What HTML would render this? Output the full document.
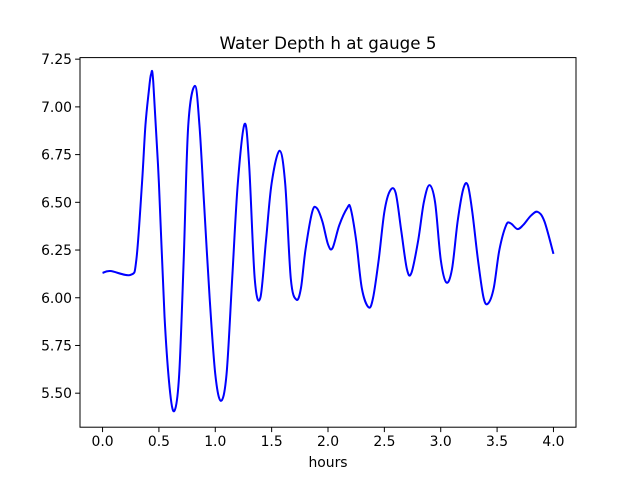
<!DOCTYPE html>
<html><head><meta charset="utf-8"><style>
html,body{margin:0;padding:0;background:#fff;}
svg text{font-family:"DejaVu Sans","Liberation Sans",sans-serif;fill:#000;}
</style></head><body>
<svg id="chart" width="640" height="480" xmlns="http://www.w3.org/2000/svg">
<rect width="640" height="480" fill="#fff"/>
<text x="328" y="49" font-size="16.7" text-anchor="middle">Water Depth h at gauge 5</text>
<g id="xt"></g>
<g id="yt"></g>
<path id="line" fill="none" stroke="#0000ff" stroke-width="2"/>
<rect x="80" y="57.6" width="496" height="369.6" fill="none" stroke="#000" stroke-width="1"/>
<text x="328" y="467" font-size="13.9" text-anchor="middle">hours</text>
</svg>
<script>
const hours=[0,0.07,0.25,0.3,0.35,0.38,0.41,0.43,0.45,0.5,0.55,0.6,0.64,0.68,0.72,0.76,0.82,0.86,0.9,0.95,1.0,1.05,1.1,1.15,1.2,1.26,1.3,1.35,1.4,1.45,1.5,1.57,1.62,1.67,1.72,1.76,1.8,1.86,1.9,1.95,2.0,2.04,2.1,2.17,2.2,2.25,2.3,2.36,2.4,2.45,2.5,2.55,2.6,2.65,2.7,2.74,2.8,2.85,2.9,2.95,3.0,3.05,3.1,3.15,3.2,3.24,3.28,3.33,3.38,3.42,3.47,3.52,3.58,3.62,3.68,3.73,3.8,3.86,3.92,4.0];
const depth=[6.13,6.14,6.12,6.2,6.6,6.9,7.08,7.17,7.13,6.6,5.9,5.5,5.41,5.6,6.2,6.9,7.11,6.9,6.5,6.0,5.6,5.46,5.6,6.1,6.6,6.91,6.7,6.1,6.0,6.3,6.6,6.77,6.6,6.1,5.99,6.05,6.25,6.45,6.47,6.4,6.28,6.26,6.38,6.47,6.47,6.3,6.05,5.95,6.0,6.2,6.45,6.56,6.55,6.35,6.15,6.13,6.3,6.5,6.59,6.5,6.2,6.08,6.15,6.4,6.57,6.59,6.45,6.2,6.0,5.97,6.05,6.25,6.38,6.39,6.36,6.38,6.43,6.45,6.4,6.23];
const xTicks=[0,0.5,1,1.5,2,2.5,3,3.5,4];
const yTicks=[5.5,5.75,6,6.25,6.5,6.75,7,7.25];
const X=v=>80+(v+0.2)/4.4*496;
const Y=v=>427.2-(v-5.3218)/(7.2582-5.3218)*369.6;
const NS="http://www.w3.org/2000/svg";
function mk(tag,attrs,parent){const e=document.createElementNS(NS,tag);for(const k in attrs)e.setAttribute(k,attrs[k]);parent.appendChild(e);return e;}
const xt=document.getElementById('xt'),yt=document.getElementById('yt');
xTicks.forEach(v=>{
 const l=mk('line',{x1:X(v),x2:X(v),y1:427.2,y2:432.1,stroke:'#000','stroke-width':1},xt);
 
 
 const t=mk('text',{x:X(v),y:446,'font-size':13.9,'text-anchor':'middle'},xt);
 t.textContent=v.toFixed(1);
 
 
});
yTicks.forEach(v=>{
 const l=mk('line',{x1:75.1,x2:80,y1:Y(v),y2:Y(v),stroke:'#000','stroke-width':1},yt);
 
 
 const t=mk('text',{x:72,y:Y(v)+5,'font-size':13.9,'text-anchor':'end'},yt);
 t.textContent=v.toFixed(2);
 
 
});
const P=hours.map((h,i)=>[X(h),Y(depth[i])]);
let d='M'+P[0][0]+','+P[0][1];
for(let i=0;i<P.length-1;i++){
 const p0=P[Math.max(0,i-1)],p1=P[i],p2=P[i+1],p3=P[Math.min(P.length-1,i+2)];
 const c1=[p1[0]+(p2[0]-p0[0])/6,p1[1]+(p2[1]-p0[1])/6];
 const c2=[p2[0]-(p3[0]-p1[0])/6,p2[1]-(p3[1]-p1[1])/6];
 d+=` C${c1[0]},${c1[1]} ${c2[0]},${c2[1]} ${p2[0]},${p2[1]}`;
}
document.getElementById('line').setAttribute('d',d);
</script>
</body></html>
